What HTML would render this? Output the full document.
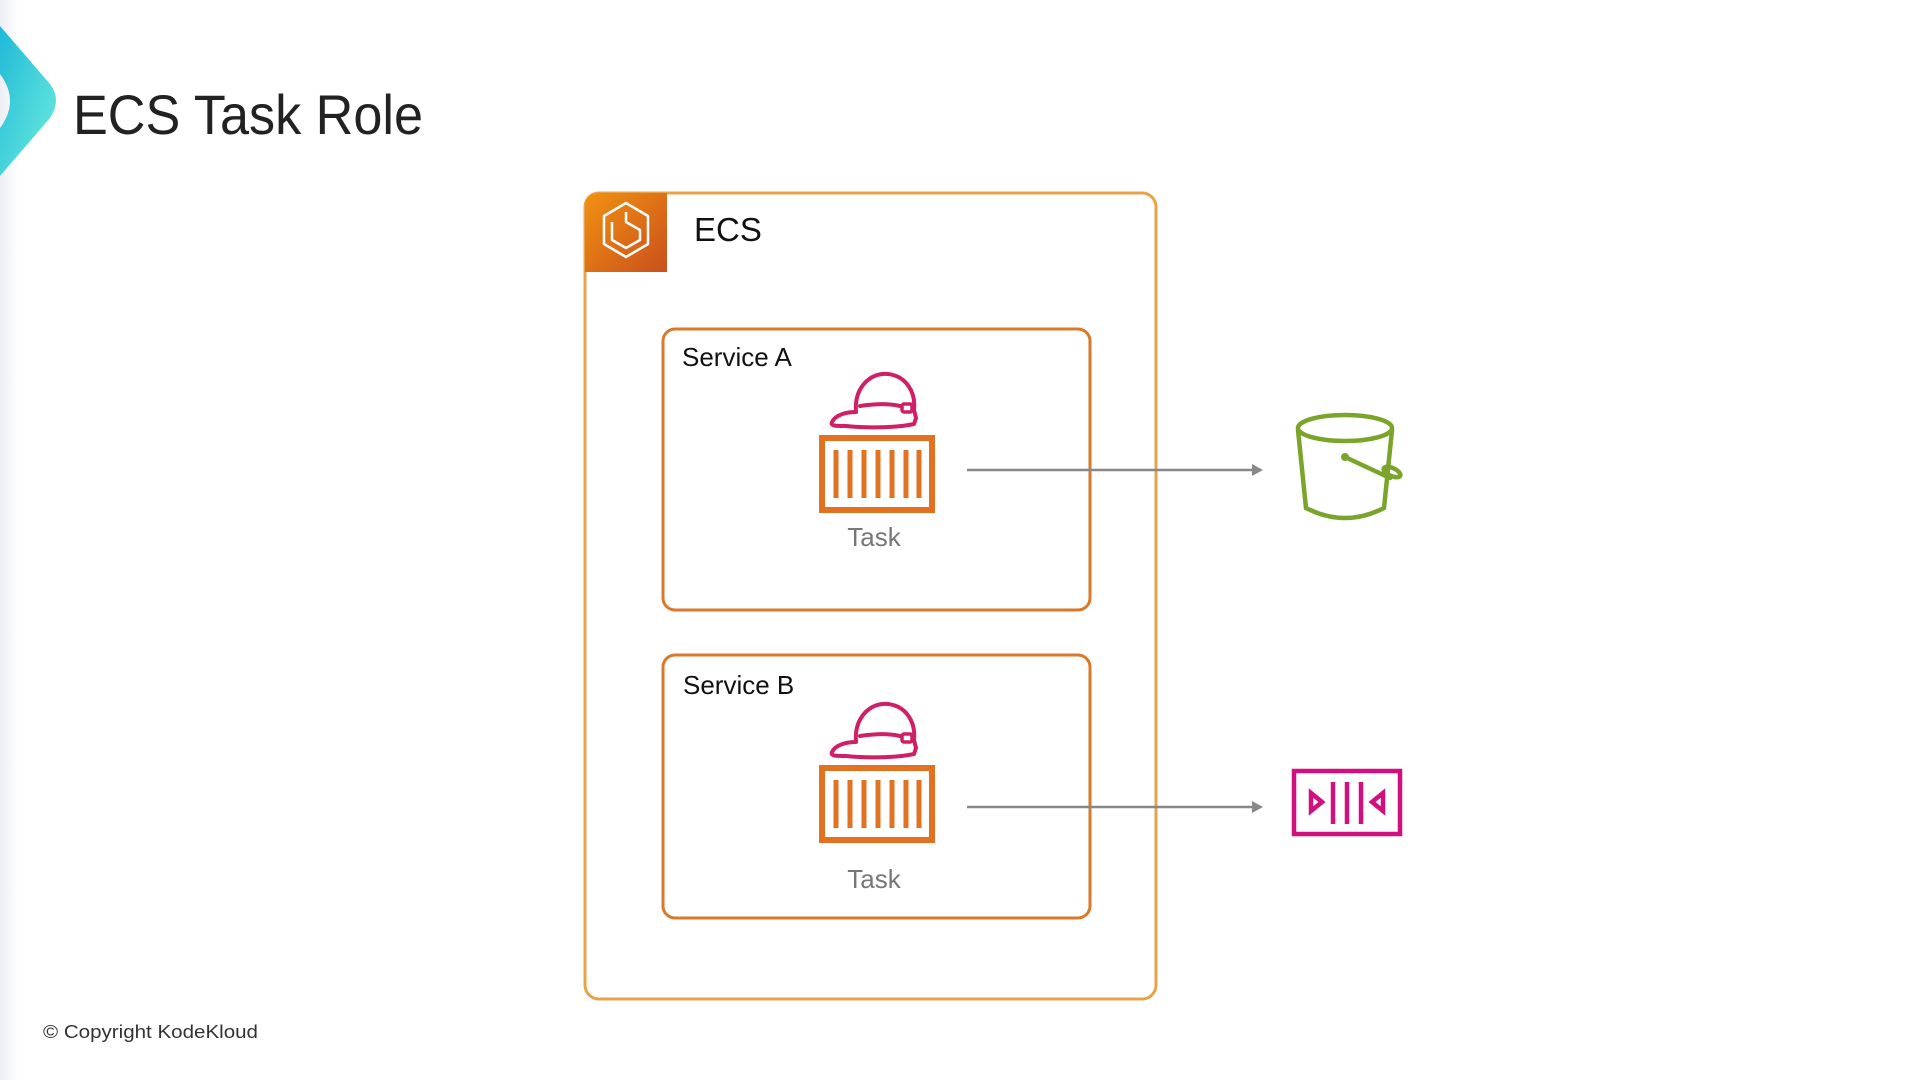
<!DOCTYPE html>
<html><head><meta charset="utf-8"><style>
html,body{margin:0;padding:0;background:#fff;}
svg{display:block;}
text{font-family:"Liberation Sans",sans-serif;}
</style></head><body>
<svg width="1920" height="1080" viewBox="0 0 1920 1080" xmlns="http://www.w3.org/2000/svg">
<defs>
<linearGradient id="cy" x1="0" y1="0" x2="1" y2="1"><stop offset="0" stop-color="#1fb8d8"/><stop offset="1" stop-color="#6eeedd"/></linearGradient>
<linearGradient id="og" x1="0" y1="0" x2="1" y2="1"><stop offset="0" stop-color="#f29111"/><stop offset="1" stop-color="#c9501d"/></linearGradient>
<linearGradient id="lb" x1="0" y1="0" x2="1" y2="0"><stop offset="0" stop-color="#eceef3"/><stop offset="1" stop-color="#fff"/></linearGradient>
<g id="task">
  <path d="M6 52 C10 44 22 42 30 42 C28 18 44 2 62 4 C80 6 90 22 88 40 L90 48 L88 54 C70 58 40 58 20 56 C10 56 4 56 6 52 Z M34 36 C48 34 62 33 74 36" fill="none" stroke="#d01f65" stroke-width="4" stroke-linejoin="round" stroke-linecap="round"/>
  <rect x="76" y="34" width="10" height="8" rx="2" fill="none" stroke="#d01f65" stroke-width="3.5"/>
  <rect x="-4" y="68" width="110" height="72" fill="none" stroke="#e07221" stroke-width="6"/>
  <g stroke="#e07221" stroke-width="5">
    <line x1="10" y1="80" x2="10" y2="128"/><line x1="24" y1="80" x2="24" y2="128"/><line x1="38" y1="80" x2="38" y2="128"/><line x1="52" y1="80" x2="52" y2="128"/><line x1="66" y1="80" x2="66" y2="128"/><line x1="80" y1="80" x2="80" y2="128"/><line x1="93" y1="80" x2="93" y2="128"/>
  </g>
</g>
</defs>
<rect x="0" y="0" width="18" height="1080" fill="url(#lb)"/>
<path d="M0 26 L50 84 Q62 100 50 118 L0 176 L0 128 Q20 101 0 74 Z" fill="url(#cy)"/>
<text x="73" y="134" font-size="56" fill="#222" textLength="350" lengthAdjust="spacingAndGlyphs">ECS Task Role</text>

<rect x="585" y="193" width="571" height="806" rx="14" fill="none" stroke="#e8a349" stroke-width="3"/>
<path d="M585 272 L585 207 Q585 193 599 193 L667 193 L667 272 Z" fill="url(#og)"/>
<g fill="none" stroke="#fff" stroke-width="2.5" stroke-linejoin="round">
  <path d="M626 203 L648 216 L648 244 L626 257 L604 244 L604 216 Z"/>
  <path d="M626 212 L626 222 L640 230 L640 240 L626 248 L612 240 L612 222"/>
</g>
<text x="694" y="241" font-size="33" fill="#111">ECS</text>

<rect x="663" y="329" width="427" height="281" rx="12" fill="none" stroke="#d9792b" stroke-width="3"/>
<text x="682" y="366" font-size="26" fill="#111">Service A</text>
<use href="#task" transform="translate(826,370)"/>
<text x="874" y="546" font-size="26" fill="#777" text-anchor="middle">Task</text>

<rect x="663" y="655" width="427" height="263" rx="12" fill="none" stroke="#d9792b" stroke-width="3"/>
<text x="683" y="694" font-size="26" fill="#111">Service B</text>
<use href="#task" transform="translate(826,700)"/>
<text x="874" y="888" font-size="26" fill="#777" text-anchor="middle">Task</text>

<g stroke="#888" stroke-width="2.5"><line x1="967" y1="470" x2="1254" y2="470"/><line x1="967" y1="807" x2="1254" y2="807"/></g>
<path d="M1252 464 L1263 470 L1252 476 Z M1252 801 L1263 807 L1252 813 Z" fill="#888"/>

<g fill="none" stroke="#7aa52a" stroke-width="4.5" stroke-linecap="round">
  <ellipse cx="1345" cy="428" rx="47" ry="13"/>
  <path d="M1298 430 L1306 508 Q1345 528 1384 508 L1392 430"/>
  <path d="M1345 457 L1390 478"/>
  <ellipse cx="1392" cy="472" rx="9" ry="4" transform="rotate(25 1392 472)"/>
</g>
<circle cx="1345" cy="457" r="4" fill="#7aa52a"/>

<g fill="none" stroke="#d10f7f" stroke-width="4.5">
  <rect x="1294" y="771" width="106" height="63"/>
  <path d="M1311 793 L1322 802 L1311 811 Z M1383 793 L1372 802 L1383 811 Z"/>
  <line x1="1333" y1="782" x2="1333" y2="824"/><line x1="1347" y1="782" x2="1347" y2="824"/><line x1="1361" y1="782" x2="1361" y2="824"/>
</g>

<text x="43" y="1038" font-size="18" fill="#333" textLength="215" lengthAdjust="spacingAndGlyphs">© Copyright KodeKloud</text>
</svg>
</body></html>
